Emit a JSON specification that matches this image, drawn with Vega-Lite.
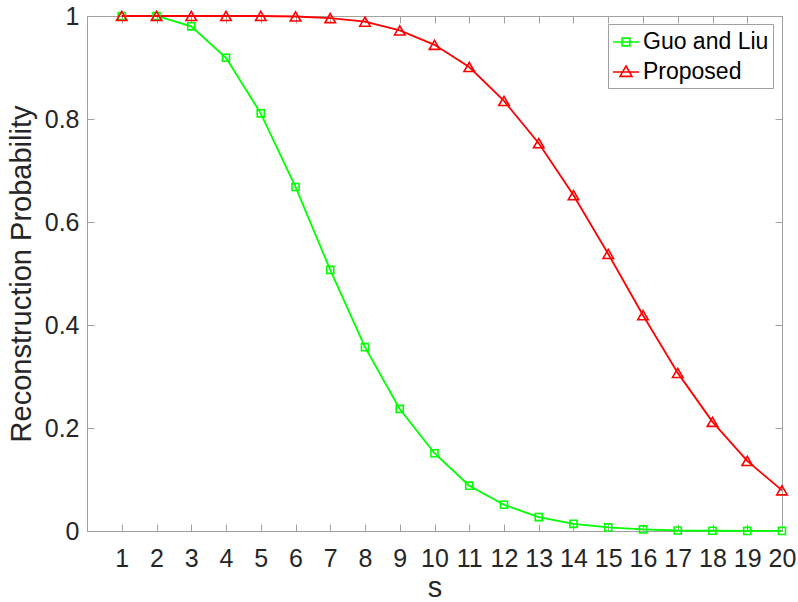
{
  "$schema": "https://vega.github.io/schema/vega-lite/v6.json",
  "width": 695,
  "height": 515,
  "autosize": {"type": "none"},
  "padding": {"left": 87, "top": 16, "right": 16, "bottom": 71},
  "background": "white",
  "config": {
    "font": "Liberation Sans",
    "view": {"stroke": null},
    "axis": {
      "grid": false,
      "domainColor": "#a0a0a0",
      "tickColor": "#a0a0a0",
      "tickSize": -7,
      "labelColor": "#262626",
      "labelFontSize": 25,
      "titleColor": "#262626",
      "titleFontSize": 29,
      "titleFontWeight": "normal",
      "labelFont": "Liberation Sans",
      "titleFont": "Liberation Sans"
    }
  },
  "data": {
    "values": [
      {"s": 1, "p": 1.0, "method": "Guo and Liu"},
      {"s": 2, "p": 1.0, "method": "Guo and Liu"},
      {"s": 3, "p": 0.98, "method": "Guo and Liu"},
      {"s": 4, "p": 0.919, "method": "Guo and Liu"},
      {"s": 5, "p": 0.811, "method": "Guo and Liu"},
      {"s": 6, "p": 0.668, "method": "Guo and Liu"},
      {"s": 7, "p": 0.507, "method": "Guo and Liu"},
      {"s": 8, "p": 0.357, "method": "Guo and Liu"},
      {"s": 9, "p": 0.237, "method": "Guo and Liu"},
      {"s": 10, "p": 0.151, "method": "Guo and Liu"},
      {"s": 11, "p": 0.088, "method": "Guo and Liu"},
      {"s": 12, "p": 0.051, "method": "Guo and Liu"},
      {"s": 13, "p": 0.027, "method": "Guo and Liu"},
      {"s": 14, "p": 0.014, "method": "Guo and Liu"},
      {"s": 15, "p": 0.007, "method": "Guo and Liu"},
      {"s": 16, "p": 0.003, "method": "Guo and Liu"},
      {"s": 17, "p": 0.001, "method": "Guo and Liu"},
      {"s": 18, "p": 0.0005, "method": "Guo and Liu"},
      {"s": 19, "p": 0.0002, "method": "Guo and Liu"},
      {"s": 20, "p": 0.0001, "method": "Guo and Liu"},
      {"s": 1, "p": 1.0, "method": "Proposed"},
      {"s": 2, "p": 1.0, "method": "Proposed"},
      {"s": 3, "p": 1.0, "method": "Proposed"},
      {"s": 4, "p": 1.0, "method": "Proposed"},
      {"s": 5, "p": 1.0, "method": "Proposed"},
      {"s": 6, "p": 0.999, "method": "Proposed"},
      {"s": 7, "p": 0.996, "method": "Proposed"},
      {"s": 8, "p": 0.989, "method": "Proposed"},
      {"s": 9, "p": 0.972, "method": "Proposed"},
      {"s": 10, "p": 0.944, "method": "Proposed"},
      {"s": 11, "p": 0.901, "method": "Proposed"},
      {"s": 12, "p": 0.835, "method": "Proposed"},
      {"s": 13, "p": 0.753, "method": "Proposed"},
      {"s": 14, "p": 0.652, "method": "Proposed"},
      {"s": 15, "p": 0.538, "method": "Proposed"},
      {"s": 16, "p": 0.419, "method": "Proposed"},
      {"s": 17, "p": 0.307, "method": "Proposed"},
      {"s": 18, "p": 0.212, "method": "Proposed"},
      {"s": 19, "p": 0.136, "method": "Proposed"},
      {"s": 20, "p": 0.079, "method": "Proposed"}
    ]
  },
  "resolve": {"axis": {"x": "independent", "y": "independent"}, "legend": {"color": "independent", "shape": "independent"}},
  "layer": [
    {
      "mark": {"type": "line", "strokeWidth": 1.8},
      "encoding": {
        "x": {"field": "s", "type": "quantitative", "scale": {"domain": [0, 20], "nice": false, "zero": false},
              "axis": {"title": "s", "values": [1,2,3,4,5,6,7,8,9,10,11,12,13,14,15,16,17,18,19,20], "labelPadding": 22, "titlePadding": 2, "labelFlush": false}},
        "y": {"field": "p", "type": "quantitative", "scale": {"domain": [0, 1], "nice": false},
              "axis": {"title": "Reconstruction Probability", "values": [0, 0.2, 0.4, 0.6, 0.8, 1], "labelPadding": 15, "titlePadding": 8, "labelFlush": false, "labelExpr": "datum.value == 0 || datum.value == 1 ? format(datum.value, 'd') : format(datum.value, '.1f')"}},
        "color": {"field": "method", "type": "nominal", "scale": {"domain": ["Guo and Liu", "Proposed"], "range": ["#00ff00", "#ff0000"]},
                  "legend": {"title": null, "orient": "none", "legendX": 521, "legendY": 8, "labelFontSize": 23, "labelColor": "#000000",
                             "strokeColor": "#a0a0a0", "fillColor": "white", "padding": 4, "rowPadding": 4, "symbolStrokeWidth": 1.6, "symbolSize": 676, "labelOffset": 3, "labelLimit": 300,
                             "symbolType": "M-1,0H1", "symbolFillColor": "transparent",
                             "encode": {"symbols": {"update": {
                               "shape": {"signal": "datum.value == 'Proposed' ? 'M-1,0H1M0,-0.46L0.46,0.34H-0.46Z' : 'M-1,0H1M-0.3,-0.3H0.3V0.3H-0.3Z'"}
                             }}}}},
        "detail": {"field": "method"}
      }
    },
    {
      "mark": {"type": "point", "filled": false, "strokeWidth": 1.6, "opacity": 1},
      "encoding": {
        "x": {"field": "s", "type": "quantitative",
              "axis": {"orient": "top", "title": null, "labels": false, "values": [1,2,3,4,5,6,7,8,9,10,11,12,13,14,15,16,17,18,19,20], "domain": true}},
        "y": {"field": "p", "type": "quantitative",
              "axis": {"orient": "right", "title": null, "labels": false, "values": [0, 0.2, 0.4, 0.6, 0.8, 1], "domain": true}},
        "color": {"field": "method", "type": "nominal", "legend": null},
        "shape": {"field": "method", "type": "nominal", "scale": {"domain": ["Guo and Liu", "Proposed"], "range": ["square", "triangle-up"]}, "legend": null},
        "size": {"field": "method", "type": "nominal", "scale": {"domain": ["Guo and Liu", "Proposed"], "range": [50, 110]}, "legend": null}
      }
    }
  ]
}
